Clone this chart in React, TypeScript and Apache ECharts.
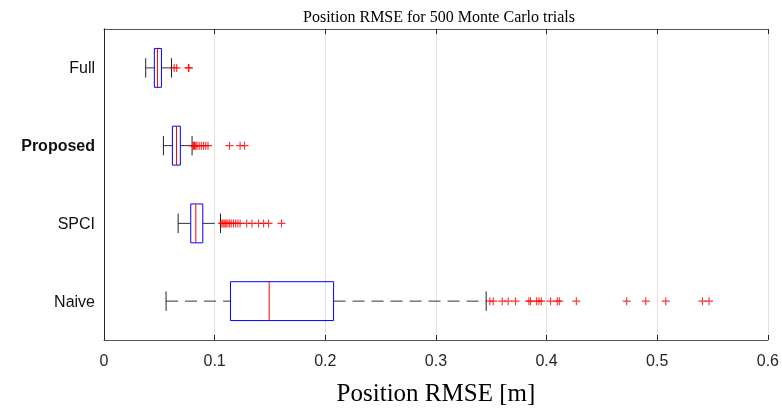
import React, { useEffect, useRef } from "react";
import * as echarts from "echarts";

const categories = ["Full", "Proposed", "SPCI", "Naive"];
const whiskerLow = [0.0377, 0.0537, 0.067, 0.0561];
const q1 = [0.0455, 0.0618, 0.0784, 0.1143];
const median = [0.0483, 0.0655, 0.083, 0.1493];
const q3 = [0.0519, 0.069, 0.0893, 0.2075];
const whiskerHigh = [0.061, 0.0796, 0.1053, 0.3454];

const outliersFull = [0.0634, 0.0657, 0.0763, 0.0768];
const outliersProposed = [0.0805, 0.081, 0.0815, 0.082, 0.083, 0.084, 0.086, 0.088, 0.09, 0.092, 0.094, 0.1134, 0.123, 0.127];
const outliersSPCI = [0.1065, 0.1075, 0.1085, 0.1095, 0.1105, 0.112, 0.1135, 0.115, 0.117, 0.119, 0.121, 0.123, 0.129, 0.1337, 0.1397, 0.1442, 0.1487, 0.1604];
const outliersNaive = [0.3487, 0.3518, 0.3599, 0.3653, 0.3719, 0.384, 0.3855, 0.391, 0.3931, 0.3952, 0.4036, 0.4097, 0.4115, 0.4269, 0.4724, 0.4896, 0.5077, 0.5409, 0.5468];

const xTicks = [0, 0.1, 0.2, 0.3, 0.4, 0.5, 0.6];

export default function App() {
  const ref = useRef<HTMLDivElement>(null);
  useEffect(() => {
    if (!ref.current) return;
    const chart = echarts.init(ref.current, null, { renderer: "svg" });
    const boxData = categories.map((_, i) => [i, whiskerLow[i], q1[i], median[i], q3[i], whiskerHigh[i]]);
    const outlierSets = [outliersFull, outliersProposed, outliersSPCI, outliersNaive];
    const outlierData: number[][] = [];
    outlierSets.forEach((arr, i) => arr.forEach((v) => outlierData.push([v, i])));
    const axisColor = "#555";
    const plusPath = "path://M0,4.3H10V5.7H0Z M4.3,0H5.7V10H4.3Z";

    chart.setOption({
      animation: false,
      title: {
        text: "Position RMSE for 500 Monte Carlo trials",
        left: 434,
        textAlign: "center",
        top: 3,
        textStyle: { fontFamily: "Liberation Serif", fontSize: 16, fontWeight: "normal", color: "#000" },
      },
      grid: { left: 104, right: 14, top: 29, bottom: 61, containLabel: false },
      xAxis: [
        {
          type: "value",
          min: 0,
          max: 0.6,
          interval: 0.1,
          position: "bottom",
          axisLine: { show: true, lineStyle: { color: axisColor, width: 1 } },
          axisTick: { show: true, inside: true, length: 5, lineStyle: { color: "#262626" } },
          axisLabel: {
            margin: 12,
            fontFamily: "Liberation Sans",
            fontSize: 16,
            color: "#262626",
            formatter: (v: number) => {
              const t = xTicks.find((x) => Math.abs(x - v) < 1e-9);
              return t === undefined ? "" : String(t);
            },
          },
          splitLine: { show: true, lineStyle: { color: "#e3e3e3", width: 1 } },
          name: "Position RMSE [m]",
          nameLocation: "middle",
          nameGap: 40,
          nameTextStyle: { fontFamily: "Liberation Serif", fontSize: 25, color: "#000" },
        },
        {
          type: "value",
          min: 0,
          max: 0.6,
          interval: 0.1,
          position: "top",
          axisLine: { show: true, lineStyle: { color: axisColor, width: 1 } },
          axisTick: { show: true, inside: true, length: 5, lineStyle: { color: "#262626" } },
          axisLabel: { show: false },
          splitLine: { show: false },
        },
      ],
      yAxis: [
        {
          type: "category",
          data: categories,
          inverse: true,
          position: "left",
          axisLine: { show: true, lineStyle: { color: axisColor, width: 1 } },
          axisTick: { show: false },
          splitLine: { show: false },
          axisLabel: {
            margin: 9,
            fontFamily: "Liberation Sans",
            fontSize: 16,
            color: "#111",
            formatter: (v: string) => (v === "Proposed" ? "{b|" + v + "}" : v),
            rich: { b: { fontWeight: "bold", fontFamily: "Liberation Sans", fontSize: 16, color: "#111" } },
          },
        },
        {
          type: "category",
          data: categories,
          inverse: true,
          position: "right",
          axisLine: { show: true, lineStyle: { color: "#262626", width: 1 } },
          axisTick: { show: false },
          axisLabel: { show: false },
          splitLine: { show: false },
        },
      ],
      series: [
        {
          type: "custom",
          xAxisIndex: 0,
          yAxisIndex: 0,
          encode: { x: [1, 2, 3, 4, 5], y: 0 },
          data: boxData,
          renderItem: (params: any, api: any) => {
            const cat = api.value(0);
            const pl = api.coord([api.value(1), cat]);
            const pq1 = api.coord([api.value(2), cat]);
            const pm = api.coord([api.value(3), cat]);
            const pq3 = api.coord([api.value(4), cat]);
            const ph = api.coord([api.value(5), cat]);
            const band = api.size([0, 1])[1];
            const bh = band * 0.5;
            const ch = bh * 0.5;
            const y = pl[1];
            const dash = { stroke: "#333", lineWidth: 1, lineDash: [12, 7] };
            return {
              type: "group",
              children: [
                { type: "line", shape: { x1: pl[0], y1: y, x2: pq1[0], y2: y }, style: dash },
                { type: "line", shape: { x1: pq3[0], y1: y, x2: ph[0], y2: y }, style: dash },
                { type: "line", shape: { x1: pl[0], y1: y - ch / 2, x2: pl[0], y2: y + ch / 2 }, style: { stroke: "#222", lineWidth: 1 } },
                { type: "line", shape: { x1: ph[0], y1: y - ch / 2, x2: ph[0], y2: y + ch / 2 }, style: { stroke: "#222", lineWidth: 1 } },
                { type: "rect", shape: { x: pq1[0], y: y - bh / 2, width: pq3[0] - pq1[0], height: bh }, style: { fill: "none", stroke: "#0000ff", lineWidth: 1 } },
                { type: "line", shape: { x1: pm[0], y1: y - bh / 2, x2: pm[0], y2: y + bh / 2 }, style: { stroke: "#ff0000", lineWidth: 1 } },
              ],
            };
          },
          z: 3,
        },
        {
          type: "scatter",
          xAxisIndex: 0,
          yAxisIndex: 0,
          data: outlierData,
          symbol: plusPath,
          symbolSize: 8,
          itemStyle: { color: "#ff0000" },
          z: 4,
        },
      ],
    });
    return () => chart.dispose();
  }, []);
  return <div ref={ref} style={{ position: "fixed", left: 0, top: 0, width: 782, height: 410 }} />;
}
